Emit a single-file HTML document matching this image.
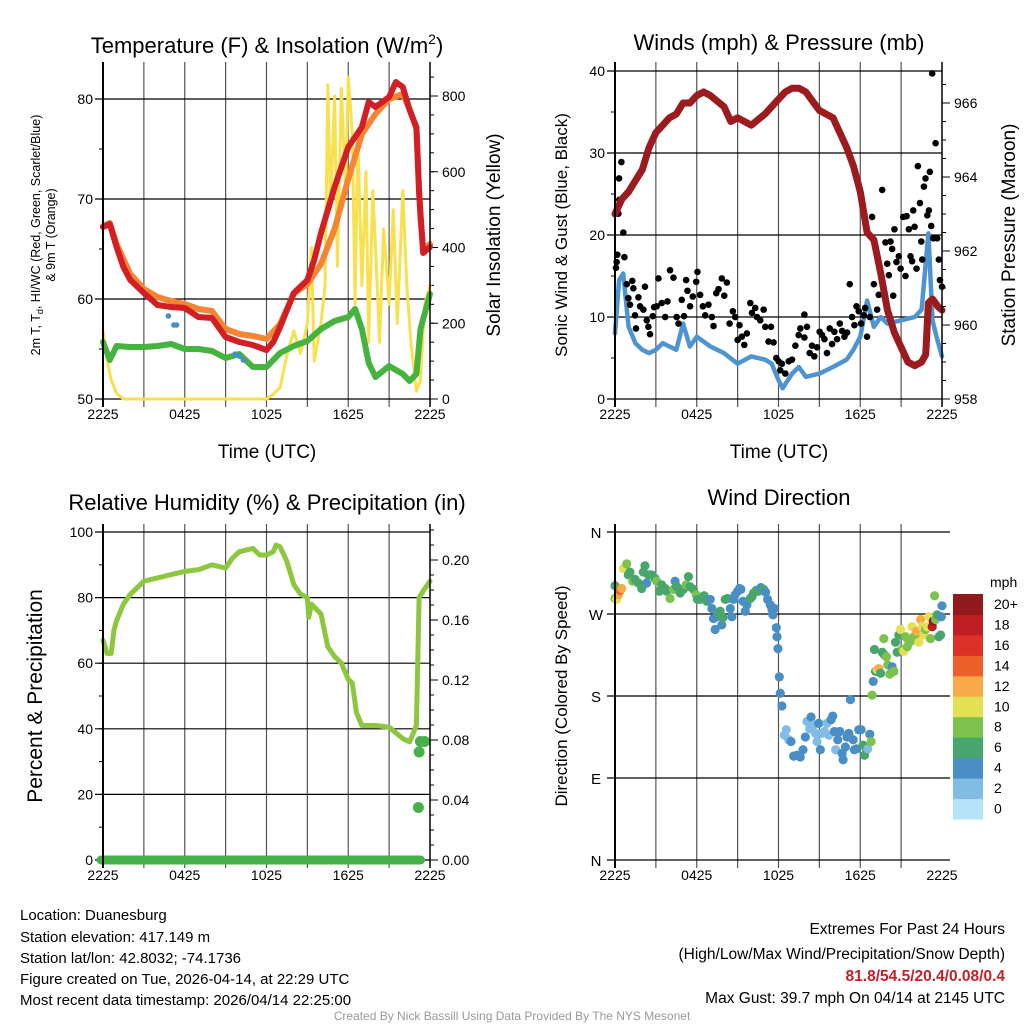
<!DOCTYPE html>
<html><head><meta charset="utf-8"><style>
body{margin:0;background:#fff;}
svg{display:block;font-family:"Liberation Sans",sans-serif;}
</style></head><body>
<svg id="s" width="1024" height="1024" viewBox="0 0 1024 1024" xmlns="http://www.w3.org/2000/svg">
<rect width="1024" height="1024" fill="#fff"/>
<g id="g1"></g>
<g id="g2"></g>
<g id="g3"></g>
<g id="g4"></g>
<text x="267" y="53" font-size="22" text-anchor="middle">Temperature (F) &amp; Insolation (W/m<tspan dy="-9" font-size="14">2</tspan><tspan dy="9">)</tspan></text>
<text x="779" y="50" font-size="22" text-anchor="middle">Winds (mph) &amp; Pressure (mb)</text>
<text x="267" y="510" font-size="22" text-anchor="middle">Relative Humidity (%) &amp; Precipitation (in)</text>
<text x="779" y="505" font-size="22" text-anchor="middle">Wind Direction</text>
<text x="267" y="458" font-size="19" text-anchor="middle">Time (UTC)</text>
<text x="779" y="458" font-size="19" text-anchor="middle">Time (UTC)</text>
<text transform="translate(40,235) rotate(-90)" font-size="12.5" text-anchor="middle">2m T, T<tspan dy="3" font-size="9">d</tspan><tspan dy="-3">, HI/WC (Red, Green, Scarlet/Blue)</tspan></text>
<text transform="translate(55,235) rotate(-90)" font-size="12.5" text-anchor="middle">&amp; 9m T (Orange)</text>
<text transform="translate(500,235) rotate(-90)" font-size="19" text-anchor="middle">Solar Insolation (Yellow)</text>
<text transform="translate(567,235) rotate(-90)" font-size="17" text-anchor="middle">Sonic Wind &amp; Gust (Blue, Black)</text>
<text transform="translate(1015,235) rotate(-90)" font-size="19" text-anchor="middle">Station Pressure (Maroon)</text>
<text transform="translate(42,696) rotate(-90)" font-size="21" text-anchor="middle">Percent &amp; Precipitation</text>
<text transform="translate(567,696) rotate(-90)" font-size="17" text-anchor="middle">Direction (Colored By Speed)</text>
<g font-size="15">
<text x="20" y="920">Location: Duanesburg</text>
<text x="20" y="942">Station elevation: 417.149 m</text>
<text x="20" y="963">Station lat/lon: 42.8032; -74.1736</text>
<text x="20" y="984">Figure created on Tue, 2026-04-14, at 22:29 UTC</text>
<text x="20" y="1005">Most recent data timestamp: 2026/04/14 22:25:00</text>
</g>
<g font-size="15.5" text-anchor="end">
<text x="1005" y="934">Extremes For Past 24 Hours</text>
<text x="1005" y="959">(High/Low/Max Wind/Precipitation/Snow Depth)</text>
<text x="1005" y="981" fill="#c8202a" font-weight="bold">81.8/54.5/20.4/0.08/0.4</text>
<text x="1005" y="1003">Max Gust: 39.7 mph On 04/14 at 2145 UTC</text>
</g>
<text x="512" y="1020" font-size="12" fill="#999" text-anchor="middle">Created By Nick Bassill Using Data Provided By The NYS Mesonet</text>
</svg>
<script>
// ---- temperature panel data (hours since 2225 UTC) ----
const tempT=[0,0.5,1,1.5,2,3,4,5,6,7,8,9,10,11,12,12.5,13,14,15,15.5,16,16.5,17,18,19,19.5,20,21,21.5,22,22.5,23,23.2,23.5,24];
const tempRed=[67.2,67.5,65.2,63.2,61.9,60.6,59.4,59.2,59.1,58.2,58.1,56.2,55.7,55.4,54.9,55.7,57.2,60.6,61.9,63.9,66.6,68.9,71.2,75.2,77.2,79.7,79.2,80.2,81.7,81.2,78.9,77.2,70.6,64.6,65.2];
const orT=[0,0.5,1,2,3,4,5,6,7,8,9,10,11,12,13,14,15,16,17,18,19,20,21,22,22.5,23,23.3,23.5,24];
const tempOrange=[67.3,67.6,65.5,62.5,61,60.2,59.8,59.5,59,58.8,57,56.5,56.3,56,57.5,60.5,61.5,63.5,67,72,76.5,78.5,80,80.5,79,77,68,65,65.5];
const dewT=[0,0.5,1,2,3,4,5,6,7,8,9,10,11,12,13,14,15,16,17,18,18.5,19,19.5,20,21,22,22.5,23,23.3,24];
const dewG=[55.7,53.9,55.3,55.2,55.2,55.3,55.5,55,55,54.8,54.1,54.5,53.2,53.2,54.6,55.3,55.8,57,57.8,58.2,59,57,53.6,52.2,53.3,52.5,51.8,52.5,57,60.5];
const hiT=[4.8,5.2,5.4,9.7,10,10.3];
const hiV=[58.3,57.4,57.4,54.5,54.3,53.9];
const solT=[0,0.3,0.6,1,1.5,12,12.5,13,13.5,14,14.5,15,15.3,15.5,16,16.3,16.5,16.7,17,17.2,17.5,17.8,18,18.3,18.5,18.7,19,19.3,19.5,19.8,20,20.3,20.6,21,21.3,21.6,22,22.3,22.6,23,23.3,23.6,24];
const solV=[182,103,50,15,0,0,13,30,116,180,120,200,400,100,200,300,830,500,800,350,820,550,850,700,250,700,300,600,150,550,400,150,450,250,500,200,550,300,150,20,50,250,300];
// ---- wind panel data ----
const presT=[0,0.5,1,1.5,2,2.5,3,3.5,4,4.5,5,5.5,6,6.5,7,8,8.5,9,10,11,12,12.5,13,13.5,14,15,16,17,17.5,18,18.5,19,19.5,20,20.5,21,21.5,22,22.5,22.8,23,23.3,23.7,24];
const presV=[963.0,963.4,963.6,963.9,964.2,964.8,965.2,965.4,965.6,965.7,966.0,966.0,966.2,966.3,966.2,965.9,965.5,965.6,965.4,965.7,966.1,966.3,966.4,966.4,966.3,965.8,965.6,964.8,964.3,963.6,962.5,962.3,961.4,960.4,959.8,959.4,959.0,958.9,959.0,959.2,960.6,960.7,960.5,960.4];
const windT=[0,0.3,0.6,1,1.5,2,2.5,3,3.5,4,4.5,5,5.5,6,7,8,9,10,11,11.5,12,12.3,13,13.5,14,15,16,17,17.5,18,18.5,19,19.5,20,21,22,22.5,23,23.3,23.6,24];
const windV=[8,14.5,15.3,8.8,6.8,6,5.6,6,6.8,6.4,6,9.2,6.4,7.6,6.4,5.6,4.3,5.2,4.8,4.3,2.3,1.3,3.1,3.9,2.7,3.1,3.9,4.8,6,7.6,12,8.8,10,9.2,9.6,10,10.9,20.2,9.6,7.6,5.2];
const gustT=[0.12,0.07,0.17,0.25,0.32,0.3,0.47,0.61,0.69,0.86,0.98,1.1,1.27,1.35,1.47,1.54,1.72,1.84,2.08,2.2,2.33,2.45,2.57,2.77,2.87,3.06,3.19,3.43,3.68,3.85,4.04,4.29,4.53,4.66,4.9,5.07,5.22,5.32,5.51,5.71,5.96,6.05,6.25,6.45,6.62,6.86,7.11,7.23,7.43,7.6,7.84,8.02,8.21,8.41,8.65,8.82,9,9.14,9.31,9.49,9.68,9.93,10.05,10.29,10.42,10.66,10.91,11.03,11.27,11.45,11.64,11.84,12.01,12.13,12.25,12.5,12.75,12.99,13.24,13.48,13.6,13.9,13.9,14.09,14.29,14.46,14.63,14.83,15.02,15.2,15.37,15.56,15.76,15.93,16.1,16.3,16.5,16.67,16.84,17.03,17.23,17.4,17.57,17.72,17.89,18.06,18.26,18.36,18.5,18.7,18.87,19.0,19.24,19.36,19.61,19.73,19.85,19.98,20.1,20.22,20.34,20.42,20.51,20.66,20.83,20.96,21.15,21.32,21.4,21.57,21.69,21.81,21.89,21.99,22.13,22.23,22.38,22.48,22.55,22.67,22.79,22.92,23.04,23.11,23.21,23.36,23.28,23.53,23.65,23.77,23.85,24];
const gustV=[16.7,16,17.6,22.6,24.3,26.9,28.9,20.3,17.3,14,12.3,11.5,14.4,13.5,10.2,8.6,12.4,11.3,10.9,13.7,9.6,8.8,7.9,10.1,11.2,11.3,14.7,11.7,10,11.9,15.7,14.8,10,9.2,12.1,10.1,14.5,13.2,11.3,12.5,14.3,15.5,12.7,11.3,10.2,11.5,10,8.9,12.9,13.4,14.7,12.6,14.2,9.2,10.7,10,7.2,9,7.6,6.6,8,11.7,10.5,11.1,10,9.6,10.9,8.8,7,8.8,6.9,5,4.6,3.5,4.3,3.1,4.6,4.8,6.5,7.8,8.6,10.3,7.5,8.8,5.6,6.5,5.2,6.3,8.2,7.8,7.3,5.6,8.6,6.7,8.2,7.3,9.2,8.3,7.6,8.1,14,10,9,11.3,10.7,9.2,10.2,11.1,7.6,10,22.2,14,10.9,12.7,25.5,12.7,19.1,16.5,15.1,19.2,18.3,12.6,20.7,16.7,17.4,15.9,22.2,15,22.3,20.7,17.4,16.8,23,21,15.9,28.4,23.9,19.2,17,25.9,26.9,22.4,23,27.7,21.1,19.6,39.7,31.2,19.6,17,14.5,13.7,10.7];
// ---- humidity panel data ----
const rhT=[0,0.3,0.6,0.8,1,1.5,2,2.5,3,4,5,6,7,8,8.5,9,9.5,10,11,11.5,12,12.5,12.7,13,13.5,14,14.5,15,15.1,15.3,16,16.5,17,17.5,18,18.3,18.6,19,20,21,22,22.5,23,23.2,23.5,24];
const rhV=[67,63,63,70,73,78,81,83,85,86,87,88,88.5,90,89.5,89,92,94,95,93,93,94,96,95.5,91,84,81,80,74,78,75,65,62,60,55,54,45,41,41,40.5,37,36,41,80,82,85];
const prT=[23.15,23.2,23.3,23.6];
const prV=[0.035,0.072,0.079,0.079];
// ---- wind direction data ----
const dirT=[0,0,0.12,0.25,0.37,0.49,0.61,0.86,0.98,1.1,1.3,1.47,1.72,1.96,2.08,2.2,2.33,2.45,2.7,2.94,3.06,3.26,3.43,3.68,3.8,4.04,4.29,4.41,4.53,4.78,5.02,5.22,5.39,5.51,5.76,5.96,6.05,6.25,6.54,6.74,6.99,7.11,7.23,7.35,7.48,7.6,7.72,7.84,7.92,8.09,8.26,8.46,8.58,8.7,8.82,9,9.14,9.24,9.39,9.56,9.68,9.93,10.05,10.17,10.37,10.54,10.71,10.91,11.05,11.2,11.4,11.52,11.59,11.69,11.84,11.89,11.96,12.06,12.13,12.25,12.43,12.57,12.75,12.92,13.11,13.36,13.6,13.8,13.97,14.09,14.29,14.39,14.58,14.71,14.83,14.95,15.07,15.2,15.37,15.56,15.69,15.86,15.98,16.1,16.2,16.35,16.5,16.67,16.74,16.91,17.03,17.16,17.28,17.48,17.57,17.72,17.89,18.06,18.21,18.31,18.46,18.55,18.7,18.8,18.87,18.95,19.04,19.12,19.24,19.36,19.49,19.61,19.73,19.78,19.93,20.02,20.17,20.34,20.47,20.59,20.71,20.83,20.96,21.08,21.2,21.32,21.45,21.57,21.69,21.81,21.94,22.06,22.13,22.3,22.43,22.55,22.67,22.79,22.92,23.04,23.16,23.28,23.36,23.46,23.53,23.65,23.77,23.9,23.95,24];
const dirV=[301,287,286,291,296,298,320,325,313,316,306,308,304,298,316,323,304,313,313,309,306,295,302,298,295,287,297,306,300,293,297,302,311,300,297,291,286,286,290,284,286,276,265,253,267,271,273,258,266,286,287,276,267,286,291,295,298,297,284,273,280,287,289,293,296,295,299,297,294,286,280,275,269,276,255,245,232,201,183,169,137,143,132,130,114,115,113,121,135,152,144,157,148,139,130,150,121,139,141,150,137,154,158,141,121,132,141,117,110,124,135,139,176,132,121,122,143,143,126,115,121,122,138,130,181,196,231,207,209,210,205,228,243,225,223,214,204,212,207,239,228,247,253,231,229,245,234,240,240,256,245,247,251,239,264,256,247,253,256,267,243,256,262,290,264,269,245,247,267,279,273];
const dirS=[6,9,10,12,14,12,10,8,7,6,8,6,6,6,6,6,4,6,6,6,8,6,6,6,6,8,8,4,6,6,6,8,6,6,6,8,6,6,6,6,4,4,4,4,4,6,6,4,6,6,6,4,4,4,4,4,4,4,4,4,4,6,6,6,6,6,4,6,4,4,4,4,4,4,4,4,4,4,4,4,2,2,2,4,4,4,4,4,4,2,2,4,2,2,2,4,4,2,2,2,2,4,4,4,2,4,4,4,4,4,4,4,4,4,4,4,4,4,6,6,6,2,4,8,8,4,6,6,10,12,6,6,8,6,8,8,8,4,8,6,6,6,10,8,10,8,8,8,8,10,8,8,12,10,12,10,10,8,10,10,8,18,20,8,8,6,6,6,4,4];
const barLabels=["0","2","4","6","8","10","12","14","16","18","20+"];
const barColors=["#b5e4f8","#80bce4","#4a8ec6","#48a66c","#7cc24d","#e4e054","#f6ab48","#ef5f2b","#dc3127","#bf1e24","#921a1c"];

const NS="http://www.w3.org/2000/svg";
function mk(parent,tag,attrs){const e=document.createElementNS(NS,tag);for(const k in attrs)e.setAttribute(k,attrs[k]);parent.appendChild(e);return e;}
function lin(d0,d1,r0,r1){return v=>r0+(v-d0)*(r1-r0)/(d1-d0);}
const tLabels=["2225","0425","1025","1625","2225"];

function frame(g,L,R,T,B,yfn,ticks,fmt,minorStep,ymin,ymax,gridExt){
  const x=lin(0,24,L,R);
  for(let h=3;h<24;h+=3){const gl=mk(g,'line',{x1:x(h),x2:x(h),y1:T-8,y2:B+8,stroke:'#555','stroke-width':1.2});
    }
  ticks.forEach(v=>{const gl=mk(g,'line',{x1:L-8,x2:R+gridExt,y1:yfn(v),y2:yfn(v),stroke:'#000','stroke-width':1.2});
    
    const t=mk(g,'text',{x:L-10,y:yfn(v)+5,'font-size':14,'text-anchor':'end'});t.textContent=fmt(v);
    });
  for(let v=ymin;v<=ymax+1e-9;v+=minorStep){mk(g,'line',{x1:L-4,x2:L,y1:yfn(v),y2:yfn(v),stroke:'#000','stroke-width':1});}
  tLabels.forEach((s,i)=>{const t=mk(g,'text',{x:x(i*6),y:B+20,'font-size':14,'text-anchor':'middle'});t.textContent=s;
    });
  return x;
}
function border(g,L,R,T,B){mk(g,'line',{x1:L,x2:L,y1:T-8,y2:B+8,stroke:'#000','stroke-width':2});mk(g,'line',{x1:R,x2:R,y1:T-8,y2:B+8,stroke:'#000','stroke-width':1.5});}
function rightAxis(g,R,yfn,ticks,fmt,minors){
  ticks.forEach(v=>{mk(g,'line',{x1:R,x2:R+8,y1:yfn(v),y2:yfn(v),stroke:'#000','stroke-width':1});
    const t=mk(g,'text',{x:R+12,y:yfn(v)+5,'font-size':14});t.textContent=fmt(v);
    });
  minors.forEach(v=>mk(g,'line',{x1:R,x2:R+4,y1:yfn(v),y2:yfn(v),stroke:'#000','stroke-width':1}));
}
function path(g,xs,ys,x,y,color,w,name){const d=xs.map((t,i)=>(i?'L':'M')+x(t).toFixed(1)+','+y(ys[i]).toFixed(1)).join('');
  const p=mk(g,'path',{d:d,fill:'none',stroke:color,'stroke-width':w,'stroke-linejoin':'round','stroke-linecap':'round'});
  return p;}
function range(a,b,s){const r=[];for(let v=a;v<=b+1e-9;v+=s)r.push(+v.toFixed(4));return r;}

// Panel 1
(function(){const g=document.getElementById('g1');const L=103,R=430,T=70,B=399;
 const y=lin(50,80,399,99);const ys=lin(0,800,399,96);
 const x=frame(g,L,R,T,B,y,[50,60,70,80],v=>v,5,50,83,0);
 rightAxis(g,R,ys,[0,200,400,600,800],v=>v,range(0,850,50));
 path(g,solT,solV,x,ys,'#f9e04e',3,'insolation-line');
 path(g,dewT,dewG,x,y,'#47b33f',6,'dewpoint-line');
 path(g,orT,tempOrange,x,y,'#f58533',6,'temp-9m-line');
 path(g,tempT,tempRed,x,y,'#d21f26',6,'temp-2m-line');
 hiT.forEach((t,i)=>{const c=mk(g,'circle',{cx:x(t),cy:y(hiV[i]),r:2.8,fill:'#4a8ec6'});
  });
 border(g,L,R,T,B);})();

// Panel 2
(function(){const g=document.getElementById('g2');const L=615,R=942,T=70,B=399;
 const y=lin(0,40,399,71);const yp=lin(958,966,399,103);
 const x=frame(g,L,R,T,B,y,[0,10,20,30,40],v=>v,5,0,41,0);
 rightAxis(g,R,yp,[958,960,962,964,966],v=>v,range(958,966.5,0.5));
 path(g,windT,windV,x,y,'#4d94d0',4.5,'sonic-wind-line');
 gustT.forEach((t,i)=>{const c=mk(g,'circle',{cx:x(t),cy:y(gustV[i]),r:3.3,fill:'#000'});
  });
 path(g,presT,presV,x,yp,'#9b1b1e',7,'pressure-line');
 border(g,L,R,T,B);})();

// Panel 3
(function(){const g=document.getElementById('g3');const L=103,R=430,T=532,B=860;
 const y=lin(0,100,860,532);const yr=lin(0,0.2,860,560);
 const x=frame(g,L,R,T,B,y,[0,20,40,60,80,100],v=>v,10,0,100,0);
 rightAxis(g,R,yr,[0,0.04,0.08,0.12,0.16,0.2],v=>v.toFixed(2),range(0,0.22,0.01));
 path(g,rhT,rhV,x,y,'#8dc63f',5,'rh-line');
 const z=mk(g,'line',{x1:L-2,x2:x(23.3),y1:yr(0),y2:yr(0),stroke:'#46b04a','stroke-width':9,'stroke-linecap':'round'});
 
 prT.forEach((t,i)=>{const c=mk(g,'circle',{cx:x(t),cy:yr(prV[i]),r:5.5,fill:'#46b04a'});
  });
 border(g,L,R,T,B);})();

// Panel 4
(function(){const g=document.getElementById('g4');const L=615,R=942,T=532,B=860;
 const y=lin(0,360,860,532);const x=lin(0,24,L,R);
 for(let h=3;h<24;h+=3){const gl=mk(g,'line',{x1:x(h),x2:x(h),y1:T-8,y2:B+8,stroke:'#555','stroke-width':1.2});
  }
 const dl=["N","E","S","W","N"];
 [0,90,180,270,360].forEach((v,i)=>{const gl=mk(g,'line',{x1:L-8,x2:950,y1:y(v),y2:y(v),stroke:'#000','stroke-width':1.2});
  
  const t=mk(g,'text',{x:596,y:y(v)+6,'font-size':15,'text-anchor':'middle'});t.textContent=dl[i];
  });
 tLabels.forEach((s,i)=>{const t=mk(g,'text',{x:x(i*6),y:B+20,'font-size':14,'text-anchor':'middle'});t.textContent=s;
  });
 dirT.forEach((t,i)=>{const idx=Math.min(10,Math.floor(dirS[i]/2));
  const c=mk(g,'circle',{cx:x(t),cy:y(dirV[i]),r:4.6,fill:barColors[idx]});
  });
 mk(g,'line',{x1:L,x2:L,y1:T-8,y2:B+8,stroke:'#000','stroke-width':2});
 const cbT=594,cbH=225/11;
 barColors.forEach((c,i)=>{const r=mk(g,'rect',{x:953,y:cbT+(10-i)*cbH,width:30,height:cbH+0.5,fill:c});
  
  const t=mk(g,'text',{x:994,y:cbT+(10-i)*cbH+15,'font-size':14});t.textContent=barLabels[i];
  });
 const m=mk(g,'text',{x:990,y:587,'font-size':14});m.textContent='mph';
 
})();
</script>
</body></html>
